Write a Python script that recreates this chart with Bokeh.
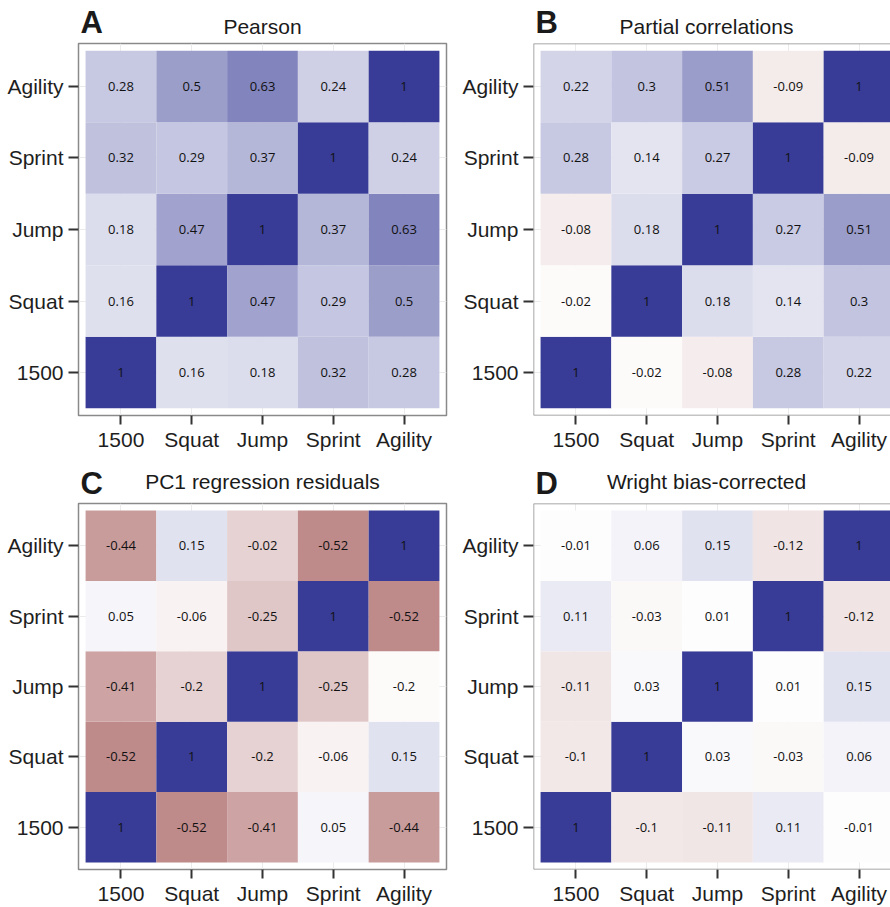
from bokeh.plotting import figure
from bokeh.models import Range1d, FixedTicker, ColumnDataSource, LinearColorMapper, Span
from bokeh.layouts import column, row
from bokeh.transform import transform
from bokeh.core.properties import value
from bokeh.embed import file_html
from bokeh.resources import INLINE

variables = ["1500", "Squat", "Jump", "Sprint", "Agility"]

# rows: y category (1500 bottom ... Agility top); columns: x category
pearson = [
    [1, 0.16, 0.18, 0.32, 0.28],
    [0.16, 1, 0.47, 0.29, 0.5],
    [0.18, 0.47, 1, 0.37, 0.63],
    [0.32, 0.29, 0.37, 1, 0.24],
    [0.28, 0.5, 0.63, 0.24, 1],
]
partial = [
    [1, -0.02, -0.08, 0.28, 0.22],
    [-0.02, 1, 0.18, 0.14, 0.3],
    [-0.08, 0.18, 1, 0.27, 0.51],
    [0.28, 0.14, 0.27, 1, -0.09],
    [0.22, 0.3, 0.51, -0.09, 1],
]
pc1 = [
    [1, -0.52, -0.41, 0.05, -0.44],
    [-0.52, 1, -0.2, -0.06, 0.15],
    [-0.41, -0.2, 1, -0.25, -0.2],
    [0.05, -0.06, -0.25, 1, -0.52],
    [-0.44, 0.15, -0.02, -0.52, 1],
]
# tile shading as drawn in the original (two cells differ from their printed labels)
pc1_tile = [
    [1, -0.52, -0.41, 0.05, -0.44],
    [-0.52, 1, -0.2, -0.06, 0.15],
    [-0.41, -0.2, 1, -0.25, -0.02],
    [0.05, -0.06, -0.25, 1, -0.52],
    [-0.44, 0.15, -0.2, -0.52, 1],
]
wright = [
    [1, -0.1, -0.11, 0.11, -0.01],
    [-0.1, 1, 0.03, -0.03, 0.06],
    [-0.11, 0.03, 1, 0.01, 0.15],
    [0.11, -0.03, 0.01, 1, -0.12],
    [-0.01, 0.06, 0.15, -0.12, 1],
]

titles = ["Pearson", "Partial correlations", "PC1 regression residuals", "Wright bias-corrected"]
letters = ["A", "B", "C", "D"]

# diverging colour scale: brown - white - dark blue
NEG = (132, 30, 30)
POS = (56, 60, 150)
N = 401
palette = []
for i in range(N):
    t = -1 + 2 * i / (N - 1)
    end = POS if t > 0 else NEG
    a = abs(t)
    c = tuple(int(round(255 + (e - 255) * a)) for e in end)
    palette.append("#%02x%02x%02x" % c)
mapper = LinearColorMapper(palette=palette, low=-1, high=1)

PX = 368 / 5.2     # pixels per category
LEFT = 78          # left border (room for y tick labels)


def geometry(right):
    # the right-hand column is cut off at the window edge, as in the original
    frame_w = 357 if right else 368
    rb = 0 if right else 9
    return frame_w, rb, Range1d(-0.6, -0.6 + frame_w / PX)


def header(letter, title, right, h, letter_mid, title_mid):
    frame_w, rb, xr = geometry(right)
    p = figure(width=LEFT + frame_w + rb, height=h, x_range=xr, y_range=Range1d(0, h),
               title=None, toolbar_location=None, output_backend="svg",
               x_axis_location=None, y_axis_location=None,
               min_border_left=LEFT, min_border_right=rb, min_border_top=0, min_border_bottom=0)
    p.grid.visible = False
    p.outline_line_color = None
    p.background_fill_color = "white"
    p.border_fill_color = "white"
    p.text(x=[2], y=[title_mid], text=[title], x_offset=-11 if right else 0,
           text_align="center", text_baseline="middle",
           text_font=value("Liberation Sans"), text_font_size="21px", text_color="#1a1a1a")
    p.text(x=[-0.6], y=[letter_mid], text=[letter], x_offset=2,
           text_align="left", text_baseline="middle",
           text_font=value("Liberation Sans"), text_font_size="31px",
           text_font_style="bold", text_color="#1a1a1a")
    return p


def panel(labels, tiles, right, frame_h, bottom):
    frame_w, rb, xr = geometry(right)
    top = 2
    p = figure(width=LEFT + frame_w + rb, height=top + frame_h + bottom,
               x_range=xr, y_range=Range1d(-0.6, 4.6), title=None,
               toolbar_location=None, output_backend="svg",
               min_border_left=LEFT, min_border_right=rb,
               min_border_top=top, min_border_bottom=bottom)
    xs, ys, lab, fill = [], [], [], []
    for r in range(5):
        for c in range(5):
            xs.append(c)
            ys.append(r)
            lab.append(str(labels[r][c]))
            fill.append(tiles[r][c])
    src = ColumnDataSource(dict(x=xs, y=ys, label=lab, fill=fill))
    p.rect(x="x", y="y", width=1, height=1, source=src,
           fill_color=transform("fill", mapper), line_color=None)
    p.text(x="x", y="y", text="label", source=src, text_align="center",
           text_baseline="middle", text_font=value("Open Sans"),
           text_font_size="13px", text_color="#111111")

    for ax in (p.xaxis, p.yaxis):
        ax.ticker = FixedTicker(ticks=[0, 1, 2, 3, 4])
        ax.major_label_overrides = {i: v for i, v in enumerate(variables)}
        ax.axis_line_color = None
        ax.major_tick_in = 0
        ax.minor_tick_line_color = None
        ax.major_tick_line_color = "#333333"
        ax.major_tick_line_width = 2
        ax.major_label_text_font = "Liberation Sans"
        ax.major_label_text_font_size = "21px"
        ax.major_label_text_color = "#1e1e1e"
    p.xaxis.major_tick_out = 9
    p.xaxis.major_label_standoff = 3
    p.yaxis.major_tick_out = 10
    p.yaxis.major_label_standoff = 5

    p.grid.grid_line_color = "#EBEBEB"
    p.grid.grid_line_width = 1
    p.background_fill_color = "white"
    p.border_fill_color = "white"

    if right:
        p.outline_line_color = None
        for loc, dim in ((-0.6, "height"), (4.6, "width"), (-0.6, "width")):
            p.add_layout(Span(location=loc, dimension=dim, line_color="#8a8a8a", line_width=1.5))
    else:
        p.outline_line_color = "#8a8a8a"
        p.outline_line_width = 1.5
    return p


# header heights and vertical text centres (pixels from header bottom)
ha = header(letters[0], titles[0], False, 41, 19, 15.5)
hb = header(letters[1], titles[1], True, 41, 19, 15.5)
hc = header(letters[2], titles[2], False, 34, 18, 20.5)
hd = header(letters[3], titles[3], True, 34, 18, 20.5)

a = panel(pearson, pearson, False, 372, 52)
b = panel(partial, partial, True, 372, 52)
c = panel(pc1, pc1_tile, False, 367, 37)
d = panel(wright, wright, True, 367, 37)

layout = column(row(column(ha, a), column(hb, b)), row(column(hc, c), column(hd, d)))
open("out.html", "w").write(file_html(layout, INLINE))
